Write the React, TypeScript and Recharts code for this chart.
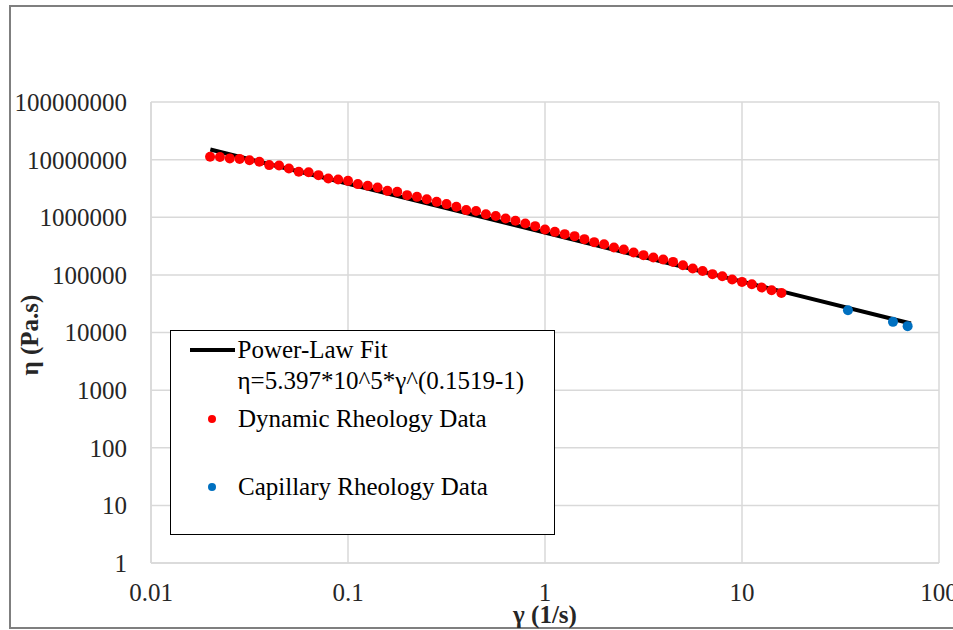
import React from 'react';
import { ComposedChart, Line, Scatter, XAxis, YAxis, CartesianGrid, Legend } from 'recharts';

// Dynamic rheology data (shear rate 1/s, viscosity Pa.s)
const dynamicRates = [
  0.01995, 0.02239, 0.02512, 0.02818, 0.03162, 0.03548, 0.03981, 0.04467, 0.05012, 0.05623,
  0.0631, 0.07079, 0.07943, 0.08913, 0.1, 0.1122, 0.1259, 0.1413, 0.1585, 0.1778,
  0.1995, 0.2239, 0.2512, 0.2818, 0.3162, 0.3548, 0.3981, 0.4467, 0.5012, 0.5623,
  0.631, 0.7079, 0.7943, 0.8913, 1.0, 1.122, 1.259, 1.413, 1.585, 1.778,
  1.995, 2.239, 2.512, 2.818, 3.162, 3.548, 3.981, 4.467, 5.012, 5.623,
  6.31, 7.079, 7.943, 8.913, 10.0, 11.22, 12.59, 14.13, 15.85,
];
const dynamicViscosity = [
  11200000, 11100000, 10500000, 10300000, 9780000, 9160000, 8030000, 7900000, 7030000, 6140000,
  6050000, 5380000, 4720000, 4530000, 4280000, 3760000, 3510000, 3290000, 2870000, 2760000,
  2420000, 2260000, 2060000, 1850000, 1690000, 1520000, 1330000, 1280000, 1130000, 1050000,
  953000, 867000, 780000, 701000, 614000, 558000, 509000, 470000, 417000, 370000,
  341000, 299000, 276000, 245000, 220000, 200000, 185000, 168000, 147000, 129000,
  117000, 103000, 94900, 83100, 75500, 69000, 60400, 54200, 48700,
];

// Capillary rheology data
const capillaryRates = [34.5, 58.4, 69.3];
const capillaryViscosity = [24400, 15300, 12900];

// Power-law fit end points
const fitRates = [0.02, 72];
const fitViscosity = [15000000, 14360];

const xTicks = [0.01, 0.1, 1, 10, 100];
const yTicks = [1, 10, 100, 1000, 10000, 100000, 1000000, 10000000, 100000000];
const xTickLabels = ['0.01', '0.1', '1', '10', '100'];

const legendItems = [
  { name: 'Power-Law Fit', sub: 'η=5.397*10^5*γ^(0.1519-1)', color: '#000000', type: 'line' },
  { name: 'Dynamic Rheology Data', color: '#FF0000', type: 'dot' },
  { name: 'Capillary Rheology Data', color: '#0070C0', type: 'dot' },
];

const FONT = '"Liberation Serif", "Times New Roman", serif';

const dynamicData = dynamicRates.map((x, i) => ({ x, y: dynamicViscosity[i] }));
const capillaryData = capillaryRates.map((x, i) => ({ x, y: capillaryViscosity[i] }));
const fitData = fitRates.map((x, i) => ({ x, y: fitViscosity[i] }));

const renderLegend = () => (
  <div
    style={{
      position: 'relative',
      width: 385,
      height: 205,
      boxSizing: 'border-box',
      border: '1.5px solid #000',
      background: '#fff',
      fontFamily: FONT,
      fontSize: 25,
      lineHeight: '25px',
      color: '#000',
    }}
  >
    <div style={{ position: 'absolute', left: 18.5, top: 16.5, width: 45, height: 4, background: legendItems[0].color }} />
    <div style={{ position: 'absolute', left: 66.5, top: 6, whiteSpace: 'nowrap' }}>{legendItems[0].name}</div>
    <div style={{ position: 'absolute', left: 66.5, top: 37, whiteSpace: 'nowrap' }}>{legendItems[0].sub}</div>
    <div style={{ position: 'absolute', left: 36.5, top: 83.5, width: 8, height: 8, borderRadius: 4, background: legendItems[1].color }} />
    <div style={{ position: 'absolute', left: 67, top: 75, whiteSpace: 'nowrap' }}>{legendItems[1].name}</div>
    <div style={{ position: 'absolute', left: 36.5, top: 151.5, width: 8, height: 8, borderRadius: 4, background: legendItems[2].color }} />
    <div style={{ position: 'absolute', left: 67, top: 143, whiteSpace: 'nowrap' }}>{legendItems[2].name}</div>
  </div>
);

const XTitle = (props: any) => {
  const vb = props.viewBox || {};
  return (
    <text x={vb.x + vb.width / 2} y={623} textAnchor="middle" fontFamily={FONT} fontWeight="bold" fontSize={25} fill="#262626">
      γ (1/s)
    </text>
  );
};

const YTitle = () => (
  <text x={38} y={335} transform="rotate(-90 38 335)" textAnchor="middle" fontFamily={FONT} fontWeight="bold" fontSize={25} fill="#262626">
    η (Pa.s)
  </text>
);

export default function App() {
  return (
    <div style={{ position: 'absolute', left: 0, top: 0, width: 953, height: 630, overflow: 'hidden', background: '#fff' }}>
      <div
        style={{
          position: 'absolute',
          left: 9,
          top: 5,
          width: 1000,
          height: 620,
          borderTop: '2px solid #7f7f7f',
          borderLeft: '2px solid #7f7f7f',
          borderBottom: '2px solid #7f7f7f',
        }}
      />
      <ComposedChart width={953} height={630} margin={{ top: 102, right: 14, bottom: 0, left: 0 }}>
        <CartesianGrid stroke="#d9d9d9" strokeWidth={1.5} />
        <XAxis
          type="number"
          dataKey="x"
          scale="log"
          domain={[0.01, 100]}
          ticks={xTicks}
          allowDataOverflow
          height={67}
          axisLine={{ stroke: '#d9d9d9', strokeWidth: 1.5 }}
          tickLine={false}
          tickSize={0}
          tickMargin={20}
          tick={{ fill: '#262626', fontSize: 25, fontFamily: FONT }}
          tickFormatter={(v: number) => xTickLabels[xTicks.indexOf(v)] ?? String(v)}
          label={<XTitle />}
          interval={0}
        />
        <YAxis
          type="number"
          dataKey="y"
          scale="log"
          domain={[1, 100000000]}
          ticks={yTicks}
          allowDataOverflow
          width={151}
          axisLine={{ stroke: '#d9d9d9', strokeWidth: 1.5 }}
          tickLine={false}
          tickSize={0}
          tickMargin={24}
          tick={{ fill: '#262626', fontSize: 25, fontFamily: FONT }}
          tickFormatter={(v: number) => String(v)}
          label={<YTitle />}
          interval={0}
        />
        <Legend
          layout="vertical"
          align="center"
          verticalAlign="middle"
          content={renderLegend}
          wrapperStyle={{ position: 'absolute', left: 170, top: 330, width: 385, height: 205 }}
        />
        <Line
          data={fitData}
          dataKey="y"
          name="Power-Law Fit"
          stroke="#000"
          strokeWidth={4}
          dot={false}
          activeDot={false}
          isAnimationActive={false}
          legendType="line"
        />
        <Scatter
          data={dynamicData}
          name="Dynamic Rheology Data"
          fill="#FF0000"
          shape={(p: any) => <circle cx={p.cx} cy={p.cy} r={5} fill="#FF0000" />}
          isAnimationActive={false}
        />
        <Scatter
          data={capillaryData}
          name="Capillary Rheology Data"
          fill="#0070C0"
          shape={(p: any) => <circle cx={p.cx} cy={p.cy} r={5} fill="#0070C0" />}
          isAnimationActive={false}
        />
      </ComposedChart>
    </div>
  );
}
